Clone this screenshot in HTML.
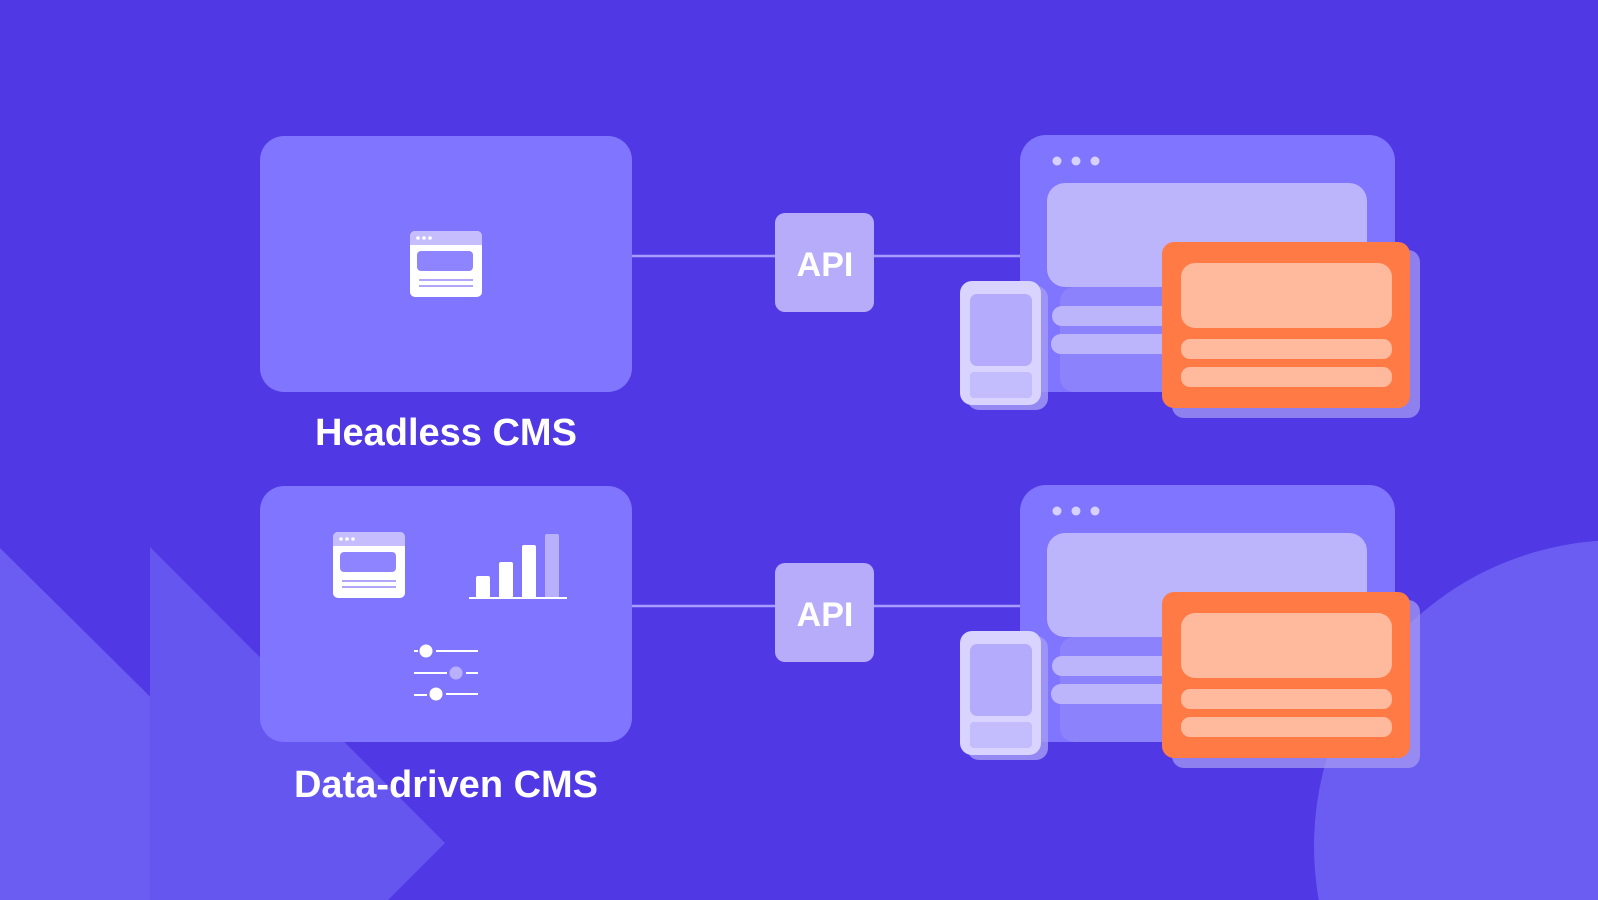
<!DOCTYPE html>
<html><head><meta charset="utf-8"><style>
html,body{margin:0;padding:0;background:#5038e4;width:1598px;height:900px;overflow:hidden;}
svg{display:block}
text{font-family:"Liberation Sans",sans-serif;font-weight:700;fill:#fff}
</style></head><body>
<svg width="1598" height="900" viewBox="0 0 1598 900" xmlns="http://www.w3.org/2000/svg">
<defs>
<g id="icon">
  <rect x="0" y="0" width="72" height="66" rx="5" fill="#fff"/>
  <path d="M5 0 H67 A5 5 0 0 1 72 5 V14 H0 V5 A5 5 0 0 1 5 0Z" fill="#c5bdfd"/>
  <circle cx="8" cy="7" r="1.8" fill="#fff"/><circle cx="14" cy="7" r="1.8" fill="#fff"/><circle cx="20" cy="7" r="1.8" fill="#fff"/>
  <rect x="7" y="20" width="56" height="20" rx="4" fill="#8f84ff"/>
  <rect x="9" y="48" width="54" height="2" fill="#b0a7fb"/>
  <rect x="9" y="54" width="54" height="2" fill="#b0a7fb"/>
</g>
<g id="device">
  <rect x="1020" y="135" width="375" height="257" rx="26" fill="#8075ff"/>
  <circle cx="1057" cy="161" r="4.5" fill="#d6d1ff"/><circle cx="1076" cy="161" r="4.5" fill="#d6d1ff"/><circle cx="1095" cy="161" r="4.5" fill="#d6d1ff"/>
  <rect x="1047" y="183" width="320" height="104" rx="18" fill="#bdb5fb"/>
  <rect x="1060" y="287" width="300" height="105" rx="14" fill="#8c82fb"/>
  <rect x="1052" y="306" width="130" height="20" rx="10" fill="#bdb5fb"/>
  <rect x="1051" y="334" width="130" height="20" rx="10" fill="#bdb5fb"/>
  <rect x="967" y="286" width="81" height="124" rx="12" fill="#a59cf6" opacity="0.8"/>
  <rect x="960" y="281" width="81" height="124" rx="12" fill="#d8d3ff"/>
  <rect x="970" y="294" width="62" height="72" rx="7" fill="#b4abfc"/>
  <rect x="970" y="372" width="62" height="26" rx="4" fill="#c4bdfd"/>
  <rect x="1172" y="250" width="248" height="168" rx="12" fill="#a99ff3" opacity="0.7"/>
  <rect x="1162" y="242" width="248" height="166" rx="12" fill="#ff7a45"/>
  <rect x="1181" y="263" width="211" height="65" rx="14" fill="#ffb99c"/>
  <rect x="1181" y="339" width="211" height="20" rx="9" fill="#ffb99c"/>
  <rect x="1181" y="367" width="211" height="20" rx="9" fill="#ffb99c"/>
</g>
</defs>
<polygon points="0,548 295,840 235,900 0,900" fill="#6b5cf2"/>
<polygon points="150,547 445,843 388,900 150,900" fill="#6556f0"/>
<path d="M1318.8,900 A306 306 0 0 1 1598,540.8 L1598,900 Z" fill="#6b5cf2"/>

<line x1="630" y1="256" x2="1020" y2="256" stroke="#a69cff" stroke-width="2.5"/>
<rect x="260" y="136" width="372" height="256" rx="24" fill="#8075ff"/>
<use href="#icon" x="410" y="231"/>
<text x="446" y="445" font-size="38" text-anchor="middle">Headless CMS</text>
<rect x="775" y="213" width="99" height="99" rx="10" fill="#b6acfa"/>
<text x="825" y="276" font-size="34" text-anchor="middle">API</text>
<use href="#device"/>

<line x1="630" y1="606" x2="1020" y2="606" stroke="#a69cff" stroke-width="2.5"/>
<rect x="260" y="486" width="372" height="256" rx="24" fill="#8075ff"/>
<use href="#icon" x="333" y="532"/>
<g fill="#fff">
  <rect x="476" y="576" width="14" height="22" rx="2"/>
  <rect x="499" y="562" width="14" height="36" rx="2"/>
  <rect x="522" y="545" width="14" height="53" rx="2"/>
  <rect x="545" y="534" width="14" height="64" rx="2" fill="#b9b0fd"/>
  <rect x="469" y="597" width="98" height="2"/>
  <rect x="414" y="650" width="4" height="2"/><circle cx="426" cy="651" r="6.5"/><rect x="436" y="650" width="42" height="2"/>
  <rect x="414" y="672" width="33" height="2"/><circle cx="456" cy="673" r="6.5" fill="#b9b0fd"/><rect x="466" y="672" width="12" height="2"/>
  <rect x="414" y="694" width="13" height="2"/><circle cx="436" cy="694" r="6.5"/><rect x="446" y="693" width="32" height="2"/>
</g>
<text x="446" y="797" font-size="38" text-anchor="middle">Data-driven CMS</text>
<rect x="775" y="563" width="99" height="99" rx="10" fill="#b6acfa"/>
<text x="825" y="626" font-size="34" text-anchor="middle">API</text>
<use href="#device" y="350"/>
</svg>
</body></html>
